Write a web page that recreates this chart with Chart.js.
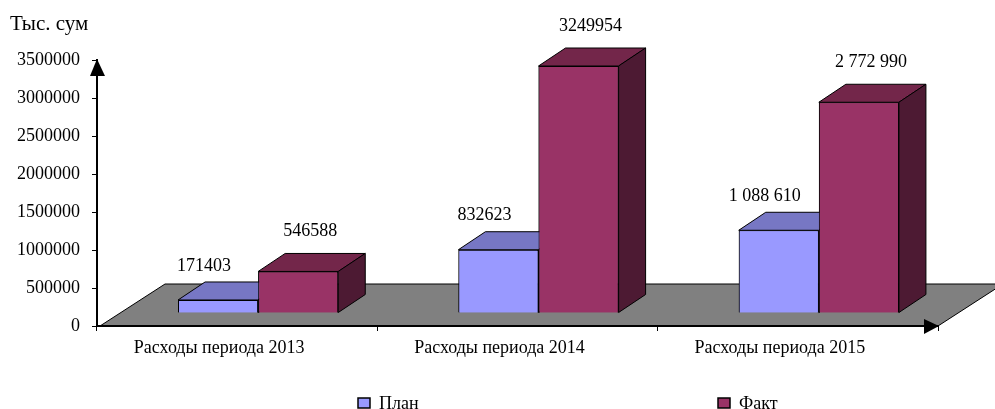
<!DOCTYPE html>
<html>
<head>
<meta charset="utf-8">
<script src="https://cdn.jsdelivr.net/npm/chart.js@4.4.0/dist/chart.umd.min.js"></script>
<style>
  html, body { margin: 0; padding: 0; background: #fff; }
</style>
</head>
<body>
<canvas id="grafico" width="995" height="409"></canvas>
<script>
const categorias = ["Расходы периода 2013", "Расходы периода 2014", "Расходы периода 2015"];
const plan = [171403, 832623, 1088610];
const fakt = [546588, 3249954, 2772990];
const rotulosPlan = ["171403", "832623", "1 088 610"];
const rotulosFakt = ["546588", "3249954", "2 772 990"];
const nomes = ["План", "Факт"];
const eixoMax = 3500000;
const eixoPasso = 500000;
const unidade = "Тыс. сум";

const familia = "'Liberation Serif', 'Times New Roman', serif";
const fonte = "18px " + familia;
const cores = [
  { frente: "#9999ff", topo: "#7777c4", lado: "#4d4d80" },
  { frente: "#993366", topo: "#73264a", lado: "#4d1a33" }
];
// deslocamento do plano das barras e profundidade 3D
const desloc = { x: 21, y: -13 };
const prof = { x: 27, y: -18 };
const chao = { x: 65, y: -42 };
const rotuloOff = [{ x: -14, y: -34 }, { x: 12, y: -40 }];
const legendaX = [358, 718];

function poligono(ctx, pts, cor) {
  ctx.beginPath();
  ctx.moveTo(pts[0][0], pts[0][1]);
  for (let i = 1; i < pts.length; i++) ctx.lineTo(pts[i][0], pts[i][1]);
  ctx.closePath();
  ctx.fillStyle = cor;
  ctx.fill();
  ctx.stroke();
}

const efeito3d = {
  id: "efeito3d",
  beforeDraw(chart) {
    const { ctx, chartArea: a } = chart;
    ctx.save();
    ctx.strokeStyle = "#000";
    ctx.lineWidth = 1;
    poligono(ctx, [
      [a.left + 3, a.bottom], [a.right, a.bottom],
      [a.right + chao.x, a.bottom + chao.y], [a.left + 3 + chao.x, a.bottom + chao.y]
    ], "#808080");
    ctx.restore();
  },
  beforeDatasetsDraw(chart) {
    chart.ctx.save();
    chart.ctx.translate(desloc.x, desloc.y);
  },
  afterDatasetsDraw(chart) {
    const ctx = chart.ctx;
    // redesenha na ordem certa: plano primeiro, depois fato por cima
    chart.data.datasets.forEach((ds, i) => {
      const meta = chart.getDatasetMeta(i);
      const c = cores[i];
      meta.data.forEach(bar => {
        bar.draw(ctx);
        const p = bar.getProps(["x", "y", "base", "width"], true);
        const l = p.x - p.width / 2, r = p.x + p.width / 2, t = p.y, b = p.base;
        ctx.save();
        ctx.strokeStyle = "#000";
        ctx.lineWidth = 1;
        poligono(ctx, [[l, t], [l + prof.x, t + prof.y], [r + prof.x, t + prof.y], [r, t]], c.topo);
        poligono(ctx, [[r, t], [r + prof.x, t + prof.y], [r + prof.x, b + prof.y], [r, b]], c.lado);
        ctx.restore();
      });
    });
    ctx.save();
    ctx.fillStyle = "#000";
    ctx.font = fonte;
    ctx.textAlign = "center";
    ctx.textBaseline = "middle";
    [rotulosPlan, rotulosFakt].forEach((rot, i) => {
      chart.getDatasetMeta(i).data.forEach((bar, j) => {
        const p = bar.getProps(["x", "y"], true);
        ctx.fillText(rot[j], p.x + rotuloOff[i].x, p.y + rotuloOff[i].y);
      });
    });
    ctx.restore();
    ctx.restore();
  },
  afterDraw(chart) {
    const { ctx, chartArea: a } = chart;
    ctx.save();
    ctx.fillStyle = "#000";
    // setas dos eixos
    ctx.beginPath();
    ctx.moveTo(a.left, a.top - 1);
    ctx.lineTo(a.left - 7, a.top + 16);
    ctx.lineTo(a.left + 8, a.top + 16);
    ctx.closePath();
    ctx.fill();
    ctx.beginPath();
    ctx.moveTo(a.right + 1, a.bottom);
    ctx.lineTo(a.right - 14, a.bottom - 7);
    ctx.lineTo(a.right - 14, a.bottom + 8);
    ctx.closePath();
    ctx.fill();
    // unidade
    ctx.font = "21px " + familia;
    ctx.textAlign = "left";
    ctx.textBaseline = "middle";
    ctx.fillText(unidade, 10, 24);
    // legenda
    ctx.font = fonte;
    chart.data.datasets.forEach((ds, i) => {
      const x = legendaX[i];
      ctx.fillStyle = ds.backgroundColor;
      ctx.fillRect(x, 398, 12, 10);
      ctx.strokeStyle = "#000";
      ctx.lineWidth = 1.5;
      ctx.strokeRect(x, 398, 12, 10);
      ctx.fillStyle = "#000";
      ctx.fillText(ds.label, x + 21, 404);
    });
    ctx.restore();
  }
};

const ctx = document.getElementById("grafico").getContext("2d");
const chart = new Chart(ctx, {
  type: "bar",
  data: {
    labels: categorias,
    datasets: [
      { label: nomes[0], data: plan, backgroundColor: cores[0].frente, borderColor: "#000", borderWidth: 1, clip: false },
      { label: nomes[1], data: fakt, backgroundColor: cores[1].frente, borderColor: "#000", borderWidth: 1, clip: false }
    ]
  },
  options: {
    responsive: false,
    animation: false,
    devicePixelRatio: 1,
    layout: { padding: { top: 60, right: 57, bottom: 43, left: 0 } },
    datasets: { bar: { categoryPercentage: 160 / 280, barPercentage: 1 } },
    plugins: { legend: { display: false }, tooltip: { enabled: false } },
    scales: {
      x: {
        ticks: { color: "#000", font: { family: familia, size: 18 }, padding: 6, labelOffset: -18, maxRotation: 0, autoSkip: false },
        grid: { drawOnChartArea: false, tickLength: 5, color: "#000", offset: true },
        border: { color: "#000", width: 2 },
        afterFit: s => { s.height = 40; }
      },
      y: {
        min: 0,
        max: eixoMax,
        ticks: { stepSize: eixoPasso, color: "#000", font: { family: familia, size: 18 }, padding: 12, callback: v => String(v) },
        grid: { drawOnChartArea: false, tickLength: 5, color: "#000" },
        border: { color: "#000", width: 2 },
        afterFit: s => { s.width = 97; }
      }
    }
  },
  plugins: [efeito3d]
});
</script>
</body>
</html>
